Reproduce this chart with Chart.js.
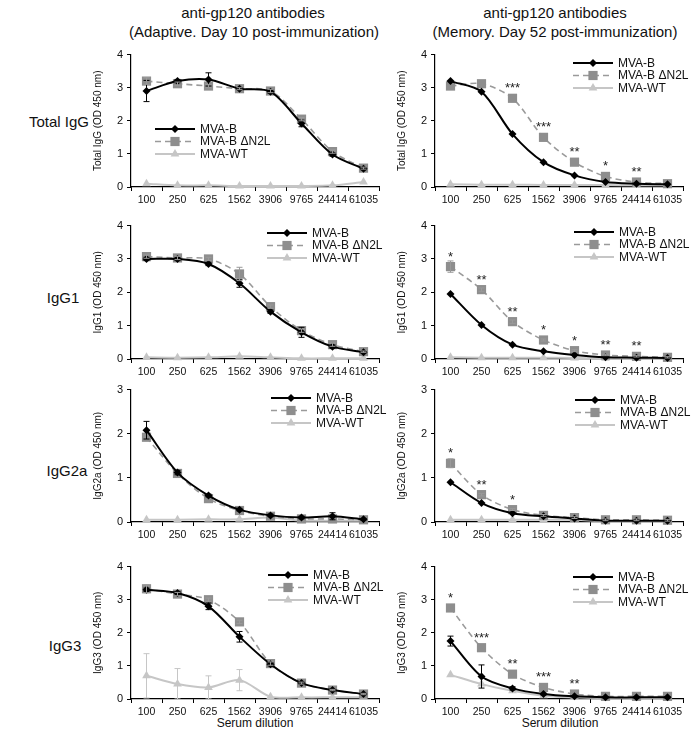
<!DOCTYPE html>
<html>
<head>
<meta charset="utf-8">
<script src="https://cdn.jsdelivr.net/npm/chart.js@4.4.1/dist/chart.umd.min.js"></script>
<style>
body{margin:0;background:#fff;font-family:"Liberation Sans",Arial,sans-serif;}
#wrap{position:relative;width:691px;height:742px;overflow:hidden;}
.t{position:absolute;white-space:nowrap;color:#111;transform:translate(-50%,-50%);}
canvas{position:absolute;}
</style>
</head>
<body>
<div id="wrap">
<div class="t" style="left:253px;top:12px;font-size:15px">anti-gp120 antibodies</div>
<div class="t" style="left:254px;top:31px;font-size:15px">(Adaptive. Day 10 post-immunization)</div>
<div class="t" style="left:555px;top:12px;font-size:15px">anti-gp120 antibodies</div>
<div class="t" style="left:555px;top:31px;font-size:15px">(Memory. Day 52 post-immunization)</div>
<div class="t" style="left:59px;top:121px;font-size:15px">Total IgG</div>
<div class="t" style="left:63px;top:297px;font-size:15px">IgG1</div>
<div class="t" style="left:67px;top:470px;font-size:15px">IgG2a</div>
<div class="t" style="left:65px;top:645px;font-size:15px">IgG3</div>
<div class="t" style="left:255px;top:723px;font-size:12px">Serum dilution</div>
<div class="t" style="left:560px;top:723px;font-size:12px">Serum dilution</div>
</div>
<script>
// serum dilutions (x axis)
const dilutions=["100","250","625","1562","3906","9765","24414","61035"];
const seriesNames=["MVA-B","MVA-B \u0394N2L","MVA-WT"];

// Total IgG, adaptive (day 10)
const totalAdaptB=[2.9,3.2,3.25,2.97,2.88,1.92,0.98,0.55];
const totalAdaptD=[3.2,3.12,3.05,2.97,2.9,2.05,1.07,0.57];
const totalAdaptW=[0.1,0.05,0.05,0.03,0.03,0.03,0.05,0.15];
const totalAdaptBErr=[0.32,0.05,0.2,0.03,0.05,0.1,0.05,0.03];
const totalAdaptDErr=[0.1,0.05,0.05,0.03,0.05,0.05,0.05,0.03];

// Total IgG, memory (day 52)
const totalMemB=[3.2,2.88,1.6,0.75,0.35,0.15,0.1,0.08];
const totalMemD=[3.05,3.12,2.68,1.5,0.75,0.32,0.15,0.1];
const totalMemW=[0.08,0.07,0.07,0.06,0.06,0.06,0.05,0.05];
const totalMemStars=["","","***","***","**","*","**",""];

// IgG1
const g1AdaptB=[3.0,3.0,2.85,2.27,1.42,0.8,0.37,0.2];
const g1AdaptD=[3.07,3.03,3.0,2.55,1.57,0.85,0.43,0.22];
const g1AdaptW=[0.05,0.04,0.05,0.08,0.05,0.02,0.02,0.02];
const g1AdaptBErr=[0.05,0.05,0.05,0.12,0.05,0.15,0.05,0.02];
const g1AdaptDErr=[0.05,0.05,0.05,0.2,0.05,0.05,0.05,0.02];
const g1MemB=[1.95,1.02,0.43,0.23,0.12,0.05,0.04,0.03];
const g1MemD=[2.77,2.08,1.12,0.57,0.25,0.12,0.08,0.05];
const g1MemW=[0.05,0.04,0.04,0.04,0.03,0.02,0.02,0.02];
const g1MemDErr=[0.17,0.05,0.05,0.03,0.03,0.02,0.02,0.02];
const g1MemStars=["*","**","**","*","*","**","**",""];

// IgG2a
const g2aAdaptB=[2.08,1.12,0.6,0.28,0.15,0.1,0.13,0.06];
const g2aAdaptD=[1.92,1.1,0.53,0.26,0.13,0.07,0.07,0.05];
const g2aAdaptW=[0.05,0.05,0.06,0.06,0.1,0.03,0.03,0.03];
const g2aAdaptBErr=[0.2,0.05,0.03,0.03,0.03,0.03,0.08,0.02];
const g2aMemB=[0.9,0.43,0.2,0.13,0.08,0.03,0.03,0.03];
const g2aMemD=[1.33,0.62,0.28,0.15,0.1,0.05,0.05,0.04];
const g2aMemW=[0.05,0.05,0.05,0.05,0.05,0.02,0.02,0.02];
const g2aMemDErr=[0.1,0.03,0.02,0.02,0.02,0.02,0.02,0.02];
const g2aMemStars=["*","**","*","","","","",""];

// IgG3
const g3AdaptB=[3.3,3.2,2.8,1.88,1.05,0.48,0.27,0.15];
const g3AdaptD=[3.33,3.17,3.0,2.33,1.07,0.48,0.27,0.15];
const g3AdaptW=[0.7,0.45,0.35,0.57,0.07,0.05,0.05,0.05];
const g3AdaptBErr=[0.05,0.05,0.1,0.16,0.05,0.03,0.02,0.02];
const g3AdaptDErr=[0.12,0.05,0.05,0.05,0.05,0.03,0.02,0.02];
const g3AdaptWErr=[0.67,0.47,0.35,0.32,0,0,0,0];
const g3MemB=[1.75,0.68,0.32,0.15,0.08,0.05,0.05,0.05];
const g3MemD=[2.75,1.55,0.75,0.35,0.15,0.08,0.08,0.08];
const g3MemW=[0.73,0.45,0.25,0.1,0.05,0.03,0.03,0.03];
const g3MemBErr=[0.15,0.35,0.05,0.03,0.02,0.02,0.02,0.02];
const g3MemStars=["*","***","**","***","**","","",""];

const colX=[131,435];
const rows=[{top:52,bottom:187,max:4},{top:223,bottom:359,max:4},{top:387,bottom:522,max:3},{top:564,bottom:699,max:4}];
const yTitles=["Total IgG (OD 450 nm)","IgG1 (OD 450 nm)","IgG2a (OD 450 nm)","IgG3 (OD 450 nm)"];
const PW=248;

const panels=[
 {r:0,c:0,b:totalAdaptB,d:totalAdaptD,w:totalAdaptW,bErr:totalAdaptBErr,dErr:totalAdaptDErr,lg:[155,129]},
 {r:0,c:1,b:totalMemB,d:totalMemD,w:totalMemW,stars:totalMemStars,lg:[573,63]},
 {r:1,c:0,b:g1AdaptB,d:g1AdaptD,w:g1AdaptW,bErr:g1AdaptBErr,dErr:g1AdaptDErr,lg:[267,233]},
 {r:1,c:1,b:g1MemB,d:g1MemD,w:g1MemW,dErr:g1MemDErr,stars:g1MemStars,lg:[574,232]},
 {r:2,c:0,b:g2aAdaptB,d:g2aAdaptD,w:g2aAdaptW,bErr:g2aAdaptBErr,lg:[271,398]},
 {r:2,c:1,b:g2aMemB,d:g2aMemD,w:g2aMemW,dErr:g2aMemDErr,stars:g2aMemStars,lg:[575,400]},
 {r:3,c:0,b:g3AdaptB,d:g3AdaptD,w:g3AdaptW,bErr:g3AdaptBErr,dErr:g3AdaptDErr,wErr:g3AdaptWErr,lg:[268,575]},
 {r:3,c:1,b:g3MemB,d:g3MemD,w:g3MemW,bErr:g3MemBErr,stars:g3MemStars,lg:[573,577]}
];

const styles=[
 {color:"#000",fill:"#000",width:2,dash:[],pt:"rectRot",rad:4},
 {color:"#9a9a9a",fill:"#8e8e8e",width:1.6,dash:[6,4],pt:"rect",rad:6.5},
 {color:"#c6c6c6",fill:"#c6c6c6",width:2,dash:[],pt:"triangle",rad:5}
];

function marker(ctx,st,x,y){
 ctx.save();
 ctx.fillStyle=st.fill;ctx.setLineDash([]);
 ctx.beginPath();
 const r=st.rad;
 if(st.pt==="rectRot"){ctx.moveTo(x,y-r);ctx.lineTo(x+r,y);ctx.lineTo(x,y+r);ctx.lineTo(x-r,y);}
 else if(st.pt==="rect"){const s=r*Math.SQRT1_2;ctx.rect(x-s,y-s,2*s,2*s);}
 else{ctx.moveTo(x,y-r);ctx.lineTo(x+r*0.87,y+r*0.5);ctx.lineTo(x-r*0.87,y+r*0.5);}
 ctx.closePath();ctx.fill();
 ctx.restore();
}

const extras={
 id:"extras",
 afterDatasetsDraw(chart){
  const p=chart.options.plugins.extras;
  const ctx=chart.ctx,xs=chart.scales.x,ys=chart.scales.y;
  // error bars
  [p.bErr,p.dErr,p.wErr].forEach((err,k)=>{
   if(!err)return;
   const vals=chart.data.datasets[k].data;
   ctx.save();ctx.strokeStyle=styles[k].color;ctx.lineWidth=1;
   err.forEach((e,i)=>{
    if(!e)return;
    const x=xs.getPixelForValue(i);
    const y1=ys.getPixelForValue(Math.max(0,vals[i]-e)),y2=ys.getPixelForValue(vals[i]+e);
    ctx.beginPath();ctx.moveTo(x,y1);ctx.lineTo(x,y2);
    ctx.moveTo(x-3,y1);ctx.lineTo(x+3,y1);ctx.moveTo(x-3,y2);ctx.lineTo(x+3,y2);
    ctx.stroke();
   });
   ctx.restore();
  });
  // significance stars above the ΔN2L points
  if(p.stars){
   const vals=chart.data.datasets[1].data;
   ctx.save();ctx.fillStyle="#222";ctx.font="13px 'Liberation Sans', Arial";ctx.textAlign="center";ctx.textBaseline="alphabetic";
   p.stars.forEach((s,i)=>{
    if(!s)return;
    ctx.fillText(s,xs.getPixelForValue(i),ys.getPixelForValue(vals[i])-6);
   });
   ctx.restore();
  }
  // legend
  const [lx,ly]=p.lg;
  ctx.save();
  ctx.font="12px 'Liberation Sans', Arial";ctx.fillStyle="#111";ctx.textBaseline="middle";
  seriesNames.forEach((n,k)=>{
   const st=styles[k],y=ly+k*12.5;
   ctx.strokeStyle=st.color;ctx.lineWidth=st.width;ctx.setLineDash(st.dash);
   ctx.beginPath();ctx.moveTo(lx,y);ctx.lineTo(lx+40,y);ctx.stroke();
   marker(ctx,st,lx+20,y);
   ctx.fillStyle="#111";ctx.fillText(n,lx+45,y+0.5);
  });
  ctx.restore();
 }
};

const wrap=document.getElementById("wrap");
panels.forEach(p=>{
 const row=rows[p.r];
 const left=colX[p.c]-60,top=row.top-8;
 const W=60+PW+8,H=row.bottom-row.top+8+22;
 const cv=document.createElement("canvas");
 cv.width=W;cv.height=H;
 cv.style.left=left+"px";cv.style.top=top+"px";cv.style.width=W+"px";cv.style.height=H+"px";
 wrap.appendChild(cv);
 const ds=[p.b,p.d,p.w].map((v,k)=>({
  label:seriesNames[k],data:v,borderColor:styles[k].color,backgroundColor:styles[k].fill,
  borderWidth:styles[k].width,borderDash:styles[k].dash,pointStyle:styles[k].pt,
  pointRadius:styles[k].rad,pointBorderWidth:0,pointBackgroundColor:styles[k].fill,
  tension:0.3,clip:false,fill:false
 }));
 new Chart(cv,{
  type:"line",
  data:{labels:dilutions,datasets:ds},
  options:{
   responsive:false,animation:false,devicePixelRatio:1,
   layout:{padding:{left:0,top:8,right:8,bottom:0}},
   plugins:{legend:{display:false},tooltip:{enabled:false},
    extras:{bErr:p.bErr,dErr:p.dErr,wErr:p.wErr,stars:p.stars,lg:[p.lg[0]-left,p.lg[1]-top]}},
   scales:{
    x:{offset:true,
     grid:{offset:true,drawOnChartArea:false,drawTicks:true,tickLength:4,color:"#000"},
     border:{color:"#000",width:1.2},
     ticks:{font:{size:10.5,family:"'Liberation Sans', Arial"},color:"#111",maxRotation:0,autoSkip:false,padding:3},
     afterFit(s){s.height=22;}},
    y:{min:0,max:row.max,
     grid:{drawOnChartArea:false,drawTicks:true,tickLength:4,color:"#000"},
     border:{color:"#000",width:1.2},
     ticks:{stepSize:1,font:{size:11,family:"'Liberation Sans', Arial"},color:"#111",padding:4},
     title:{display:true,text:yTitles[p.r],font:{size:10,family:"'Liberation Sans', Arial"},color:"#111",padding:{top:21,bottom:0}},
     afterFit(s){s.width=60;}}
   }
  },
  plugins:[extras]
 });
});
</script>
</body>
</html>
